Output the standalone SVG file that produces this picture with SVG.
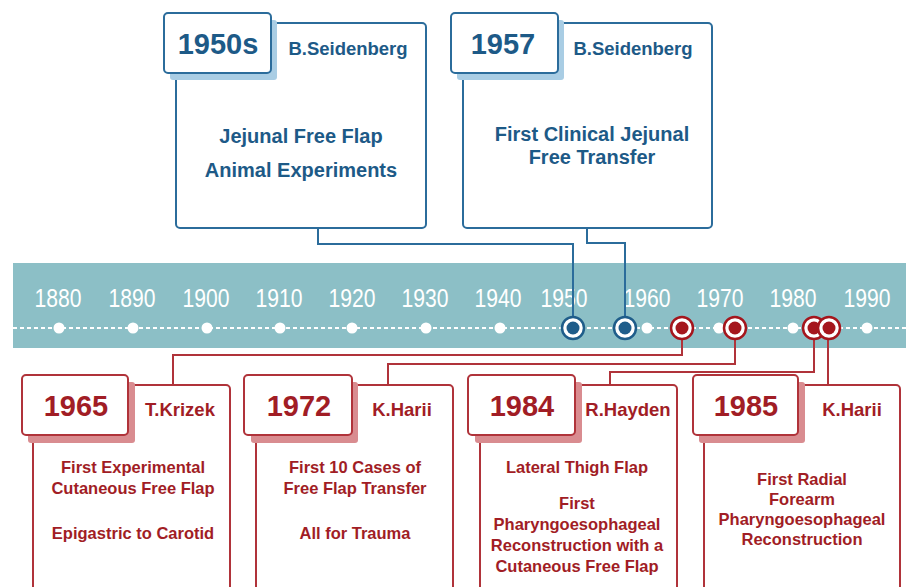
<svg xmlns="http://www.w3.org/2000/svg" xmlns:xlink="http://www.w3.org/1999/xlink" width="906" height="587" viewBox="0 0 906 587">
<style>
  .bbox{fill:#fff;stroke:#2b6c9b;stroke-width:2}
  .bsh{fill:#a9cde4}
  .rbox{fill:#fff;stroke:#b0333a;stroke-width:2}
  .rsh{fill:#d98c90}
  .yr{font-family:"Liberation Sans",Arial,sans-serif;font-weight:bold;font-size:29px;text-anchor:middle}
  .nm{font-family:"Liberation Sans",Arial,sans-serif;font-weight:bold;font-size:18.5px;text-anchor:middle}
  .bt{font-family:"Liberation Sans",Arial,sans-serif;font-weight:bold;font-size:20px;text-anchor:middle;fill:#1d5a87}
  .rt{font-family:"Liberation Sans",Arial,sans-serif;font-weight:bold;font-size:16.5px;text-anchor:middle;fill:#a11d25}
  .blue{fill:#1d5a87}
  .red{fill:#a11d25}
  .tl{font-family:"Liberation Sans",Arial,sans-serif;font-size:26px;fill:#fff;text-anchor:middle}
  .bc{fill:none;stroke:#2b6c9b;stroke-width:2}
  .rc{fill:none;stroke:#b0333a;stroke-width:2}
</style>
<defs>
  <g id="mb"><circle r="11" fill="#fff" stroke="#1f5d8a" stroke-width="2.5"/><circle r="6.5" fill="#1f5d8a"/></g>
  <g id="mr"><circle r="11" fill="#fff" stroke="#a5161d" stroke-width="2.5"/><circle r="6.5" fill="#a5161d"/></g>
</defs>
<rect width="906" height="587" fill="#fff"/>

<g id="timeline">
  <rect x="13" y="263" width="893" height="85" fill="#8cbfc6"/>
  <line x1="13" y1="328" x2="906" y2="328" stroke="#fff" stroke-width="2" stroke-dasharray="4 3"/>
  <text class="tl" x="58" y="307" textLength="47" lengthAdjust="spacingAndGlyphs">1880</text>
  <text class="tl" x="132" y="307" textLength="47" lengthAdjust="spacingAndGlyphs">1890</text>
  <text class="tl" x="206" y="307" textLength="47" lengthAdjust="spacingAndGlyphs">1900</text>
  <text class="tl" x="279" y="307" textLength="47" lengthAdjust="spacingAndGlyphs">1910</text>
  <text class="tl" x="352" y="307" textLength="47" lengthAdjust="spacingAndGlyphs">1920</text>
  <text class="tl" x="425" y="307" textLength="47" lengthAdjust="spacingAndGlyphs">1930</text>
  <text class="tl" x="498" y="307" textLength="47" lengthAdjust="spacingAndGlyphs">1940</text>
  <text class="tl" x="564" y="307" textLength="47" lengthAdjust="spacingAndGlyphs">1950</text>
  <text class="tl" x="647" y="307" textLength="47" lengthAdjust="spacingAndGlyphs">1960</text>
  <text class="tl" x="720" y="307" textLength="47" lengthAdjust="spacingAndGlyphs">1970</text>
  <text class="tl" x="793" y="307" textLength="47" lengthAdjust="spacingAndGlyphs">1980</text>
  <text class="tl" x="867" y="307" textLength="47" lengthAdjust="spacingAndGlyphs">1990</text>
  <g fill="#fff">
    <circle cx="59" cy="328" r="5.5"/>
    <circle cx="133" cy="328" r="5.5"/>
    <circle cx="207" cy="328" r="5.5"/>
    <circle cx="280" cy="328" r="5.5"/>
    <circle cx="352" cy="328" r="5.5"/>
    <circle cx="426" cy="328" r="5.5"/>
    <circle cx="500" cy="328" r="5.5"/>
    <circle cx="647" cy="328" r="5.5"/>
    <circle cx="719" cy="328" r="5.5"/>
    <circle cx="793" cy="328" r="5.5"/>
    <circle cx="867" cy="328" r="5.5"/>
  </g>
</g>

<g id="connectors">
  <polyline class="bc" points="318,228 318,244 573,244 573,317"/>
  <polyline class="bc" points="587,228 587,243 625,243 625,317"/>
  <polyline class="rc" points="682,339 682,355 173,355 173,385"/>
  <polyline class="rc" points="735,339 735,364 388,364 388,385"/>
  <polyline class="rc" points="814,339 814,372 610,372 610,385"/>
  <polyline class="rc" points="828,339 828,385"/>
</g>

<g id="markers">
  <use xlink:href="#mb" href="#mb" x="573" y="328"/>
  <use xlink:href="#mb" href="#mb" x="625" y="328"/>
  <use xlink:href="#mr" href="#mr" x="682" y="328"/>
  <use xlink:href="#mr" href="#mr" x="735" y="328"/>
  <use xlink:href="#mr" href="#mr" x="814" y="328"/>
  <use xlink:href="#mr" href="#mr" x="829" y="328"/>
</g>

<g id="n1950s">
  <rect class="bbox" x="176" y="23" width="250" height="205" rx="4"/>
  <rect class="bsh" x="170" y="20" width="107" height="60" rx="3"/>
  <rect class="bbox" x="164" y="13" width="107" height="60" rx="4"/>
  <text class="yr blue" x="218" y="54">1950s</text>
  <text class="nm blue" x="348" y="55">B.Seidenberg</text>
  <text class="bt" x="301" y="143">Jejunal Free Flap</text>
  <text class="bt" x="301" y="177">Animal Experiments</text>
</g>

<g id="n1957">
  <rect class="bbox" x="463" y="23" width="249" height="205" rx="4"/>
  <rect class="bsh" x="457" y="20" width="107" height="60" rx="3"/>
  <rect class="bbox" x="451" y="13" width="107" height="60" rx="4"/>
  <text class="yr blue" x="503" y="54">1957</text>
  <text class="nm blue" x="633" y="55">B.Seidenberg</text>
  <text class="bt" x="592" y="141">First Clinical Jejunal</text>
  <text class="bt" x="592" y="164">Free Transfer</text>
</g>

<g id="n1965">
  <rect class="rbox" x="33" y="385" width="197" height="220" rx="4"/>
  <rect class="rsh" x="28" y="382" width="107" height="61" rx="3"/>
  <rect class="rbox" x="22" y="375" width="106" height="60" rx="4"/>
  <text class="yr red" x="76" y="416">1965</text>
  <text class="nm red" x="180" y="416">T.Krizek</text>
  <text class="rt" x="133" y="473">First Experimental</text>
  <text class="rt" x="133" y="494">Cutaneous Free Flap</text>
  <text class="rt" x="133" y="539">Epigastric to Carotid</text>
</g>

<g id="n1972">
  <rect class="rbox" x="256" y="385" width="197" height="220" rx="4"/>
  <rect class="rsh" x="251" y="382" width="107" height="61" rx="3"/>
  <rect class="rbox" x="244" y="375" width="108" height="60" rx="4"/>
  <text class="yr red" x="299" y="416">1972</text>
  <text class="nm red" x="402" y="416">K.Harii</text>
  <text class="rt" x="355" y="473">First 10 Cases of</text>
  <text class="rt" x="355" y="494">Free Flap Transfer</text>
  <text class="rt" x="355" y="539">All for Trauma</text>
</g>

<g id="n1984">
  <rect class="rbox" x="480" y="385" width="197" height="220" rx="4"/>
  <rect class="rsh" x="475" y="382" width="107" height="61" rx="3"/>
  <rect class="rbox" x="468" y="375" width="107" height="60" rx="4"/>
  <text class="yr red" x="522" y="416">1984</text>
  <text class="nm red" x="628" y="416">R.Hayden</text>
  <text class="rt" x="577" y="473">Lateral Thigh Flap</text>
  <text class="rt" x="577" y="509">First</text>
  <text class="rt" x="577" y="530">Pharyngoesophageal</text>
  <text class="rt" x="577" y="551">Reconstruction with a</text>
  <text class="rt" x="577" y="572">Cutaneous Free Flap</text>
</g>

<g id="n1985">
  <rect class="rbox" x="704" y="385" width="196" height="220" rx="4"/>
  <rect class="rsh" x="699" y="382" width="106" height="61" rx="3"/>
  <rect class="rbox" x="693" y="375" width="105" height="60" rx="4"/>
  <text class="yr red" x="746" y="416">1985</text>
  <text class="nm red" x="852" y="416">K.Harii</text>
  <text class="rt" x="802" y="485">First Radial</text>
  <text class="rt" x="802" y="505">Forearm</text>
  <text class="rt" x="802" y="525">Pharyngoesophageal</text>
  <text class="rt" x="802" y="545">Reconstruction</text>
</g>
</svg>
